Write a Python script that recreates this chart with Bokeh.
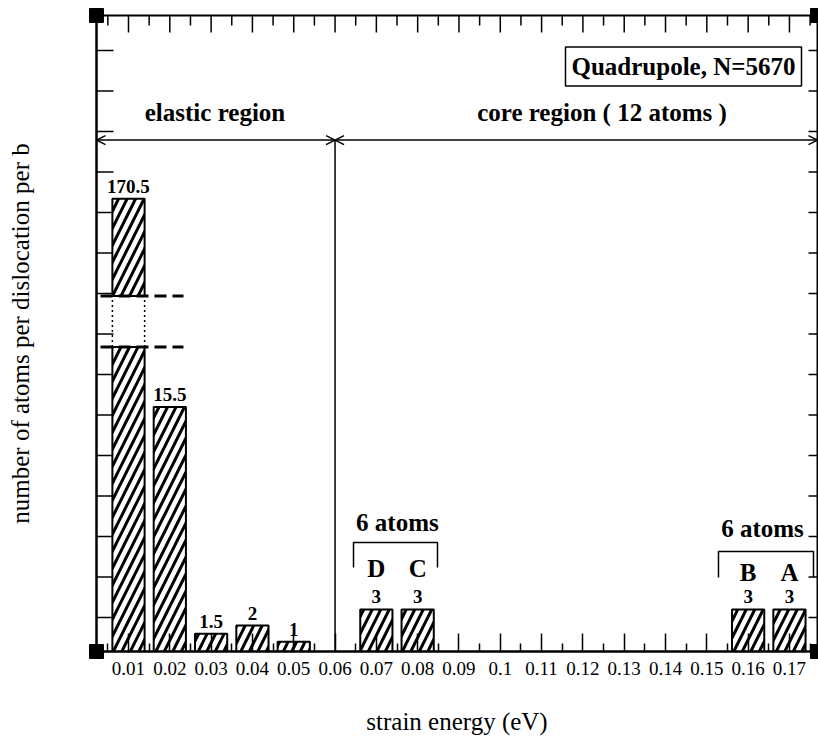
from bokeh.plotting import figure
from bokeh.models import (Range1d, LinearAxis, FixedTicker, ColumnDataSource, Label,
                          Arrow, OpenHead)
from bokeh.core.properties import value
from bokeh.embed import file_html
from bokeh.resources import INLINE

# ---------------- data ----------------
energy_bins = [0.01, 0.02, 0.03, 0.04, 0.05, 0.07, 0.08, 0.16, 0.17]
atom_counts = [170.5, 15.5, 1.5, 2, 1, 3, 3, 3, 3]
count_labels = ["170.5", "15.5", "1.5", "2", "1", "3", "3", "3", "3"]
core_bins_left = [0.07, 0.08]
core_letters_left = ["D", "C"]
core_bins_right = [0.16, 0.17]
core_letters_right = ["B", "A"]
x_ticks = [0.01, 0.02, 0.03, 0.04, 0.05, 0.06, 0.07, 0.08, 0.09, 0.1,
           0.11, 0.12, 0.13, 0.14, 0.15, 0.16, 0.17]
x_tick_labels = ["0.01", "0.02", "0.03", "0.04", "0.05", "0.06", "0.07", "0.08", "0.09", "0.1",
                 "0.11", "0.12", "0.13", "0.14", "0.15", "0.16", "0.17"]
region_boundary = 0.06
region_names = ["elastic region", "core region ( 12 atoms )"]
group_label = "6 atoms"
box_label = "Quadrupole, N=5670"
x_title = "strain energy (eV)"
y_title = "number of atoms per dislocation per b"

# ---------------- layout constants ----------------
SERIF = "Liberation Serif"
XL, XR = 0.002254, 0.17679
Y0, Y1 = 0.4, 39.66
PX_X = 0.01 / 41.31     # data per pixel (x)
PX_Y = 1 / 16.2         # data per pixel (y)
BAR_W = 0.0078
BREAK_LOW = 19.2      # where the lower part of the broken bar stops
GAP = 3.15            # visual gap of the axis break (lower-scale units)
BREAK_HIGH = 164.5    # where the upper part of the broken bar resumes
UP_OFF = BREAK_HIGH - (BREAK_LOW + GAP)
Y_ARROW = 31.97

p = figure(width=818, height=739, x_range=Range1d(XL, XR), y_range=Range1d(Y0, Y1),
           output_backend="svg", toolbar_location=None,
           x_axis_location=None, y_axis_location=None,
           min_border_left=96, min_border_right=1, min_border_top=15, min_border_bottom=88,
           background_fill_color="white", border_fill_color="white")
p.extra_y_ranges = {"upper": Range1d(Y0 + UP_OFF, Y1 + UP_OFF)}
p.grid.grid_line_color = None
p.outline_line_color = "black"
p.outline_line_width = 2

x_minor = [round(t - 0.005, 3) for t in x_ticks] + [0.175]
y_ticks = [2.5 * k for k in range(1, 16)]

# bottom axis with labels
bottom = LinearAxis(ticker=FixedTicker(ticks=x_ticks, minor_ticks=x_minor),
                    major_label_overrides={t: s for t, s in zip(x_ticks, x_tick_labels)},
                    axis_label=x_title)
bottom.axis_line_color = "black"
bottom.axis_line_width = 2
bottom.major_tick_in = 18
bottom.major_tick_out = 0
bottom.major_tick_line_width = 1.5
bottom.minor_tick_in = 8
bottom.minor_tick_out = 0
bottom.minor_tick_line_width = 1.5
bottom.major_label_text_font = SERIF
bottom.major_label_text_font_size = "19px"
bottom.major_label_text_color = "black"
bottom.major_label_standoff = 10
bottom.axis_label_text_font = SERIF
bottom.axis_label_text_font_style = "normal"
bottom.axis_label_text_font_size = "25px"
bottom.axis_label_text_color = "black"
bottom.axis_label_standoff = 30
p.add_layout(bottom, "below")

# left axis: only the line and its title (ticks are drawn below as marks)
left = LinearAxis(ticker=FixedTicker(ticks=[], minor_ticks=[]), axis_label=y_title)
left.axis_line_color = "black"
left.axis_line_width = 2
left.major_tick_line_color = None
left.minor_tick_line_color = None
left.major_label_standoff = 0
left.axis_label_text_font = SERIF
left.axis_label_text_font_style = "normal"
left.axis_label_text_font_size = "25px"
left.axis_label_text_color = "black"
left.axis_label_standoff = 63
p.add_layout(left, "left")

# inward tick marks on the left, right and top frame edges
tick_style = dict(line_color="black", line_width=1.5)
p.segment(x0=[XL] * len(y_ticks), y0=y_ticks, x1=[XL + 17 * PX_X] * len(y_ticks), y1=y_ticks,
          **tick_style)
p.segment(x0=[XR] * len(y_ticks), y0=y_ticks, x1=[XR - 9 * PX_X] * len(y_ticks), y1=y_ticks,
          **tick_style)
p.segment(x0=x_ticks, y0=[Y1] * len(x_ticks), x1=x_ticks, y1=[Y1 - 17 * PX_Y] * len(x_ticks),
          **tick_style)
p.segment(x0=x_minor, y0=[Y1] * len(x_minor), x1=x_minor, y1=[Y1 - 10 * PX_Y] * len(x_minor),
          **tick_style)

# ---------------- bars ----------------
lower_top = [min(v, BREAK_LOW) for v in atom_counts]
src_low = ColumnDataSource(dict(x=energy_bins, top=lower_top))
bar_style = dict(width=BAR_W, fill_color="white", line_color="black", line_width=2,
                 hatch_pattern="/", hatch_color="black", hatch_weight=3, hatch_scale=17)
p.vbar(x="x", top="top", bottom=0, source=src_low, **bar_style)

up_x = [x for x, v in zip(energy_bins, atom_counts) if v > BREAK_LOW]
up_v = [v for v in atom_counts if v > BREAK_LOW]
up_lab = [s for s, v in zip(count_labels, atom_counts) if v > BREAK_LOW]
src_up = ColumnDataSource(dict(x=up_x, top=up_v, lab=up_lab))
p.vbar(x="x", top="top", bottom=BREAK_HIGH, source=src_up, y_range_name="upper", **bar_style)

# value labels
lo_x = [x for x, v in zip(energy_bins, atom_counts) if v <= BREAK_LOW]
lo_v = [v for v in atom_counts if v <= BREAK_LOW]
lo_lab = [s for s, v in zip(count_labels, atom_counts) if v <= BREAK_LOW]
lab_style = dict(text_font=value(SERIF), text_font_style="bold", text_font_size="19px",
                 text_align="center", text_baseline="bottom", text_color="black", y_offset=-6)
p.text(x=lo_x, y=lo_v, text=lo_lab, **lab_style)
p.text(x="x", y="top", text="lab", source=src_up, y_range_name="upper", **lab_style)

# axis-break marks on the tall bar
for bx in up_x:
    for by in (BREAK_LOW, BREAK_LOW + GAP):
        p.line(x=[bx - 0.00678, bx + 0.01331], y=[by, by],
               line_color="black", line_width=3, line_dash="12 6")
    for ex in (bx - BAR_W / 2, bx + BAR_W / 2):
        p.line(x=[ex, ex], y=[BREAK_LOW, BREAK_LOW + GAP], line_color="black",
               line_width=1.5, line_dash="2 3")

# ---------------- regions ----------------
p.line(x=[region_boundary, region_boundary], y=[0, Y_ARROW], line_color="black", line_width=1.5)
for xs, xe in ((XL, region_boundary), (region_boundary, XR)):
    p.add_layout(Arrow(x_start=xs, y_start=Y_ARROW, x_end=xe, y_end=Y_ARROW,
                       line_color="black", line_width=1.5,
                       start=OpenHead(size=9, line_width=1.5, line_color="black"),
                       end=OpenHead(size=9, line_width=1.5, line_color="black")))

big = dict(text_font=value(SERIF), text_font_style="bold", text_font_size="25px",
           text_align="center", text_baseline="middle", text_color="black")
p.text(x=[0.03094, 0.12462], y=[33.67, 33.67], text=region_names, **big)

p.add_layout(Label(x=0.14435, y=36.51, text=box_label, text_align="center",
                   text_baseline="middle", text_font=SERIF, text_font_style="bold",
                   text_font_size="25px", text_color="black",
                   border_line_color="black", border_line_width=1.5,
                   background_fill_color="white", padding=6))

# core groups
p.text(x=core_bins_left, y=[5.52] * len(core_bins_left), text=core_letters_left, **big)
p.text(x=core_bins_right, y=[5.28] * len(core_bins_right), text=core_letters_right, **big)
p.text(x=[0.0751, 0.16347], y=[8.36, 7.99], text=[group_label, group_label], **big)
p.multi_line(xs=[[0.06447, 0.06447, 0.0848, 0.0848], [0.15282, 0.15282, 0.17582, 0.17582]],
             ys=[[5.585, 7.13, 7.13, 5.585], [4.97, 6.57, 6.57, 4.97]],
             line_color="black", line_width=1.5)

# corner squares of the frame
p.scatter(x=[XL, XL, XR, XR], y=[Y0, Y1, Y0, Y1], marker="square", size=14,
          fill_color="black", line_color="black", level="overlay")

open("out.html", "w").write(file_html(p, INLINE))
